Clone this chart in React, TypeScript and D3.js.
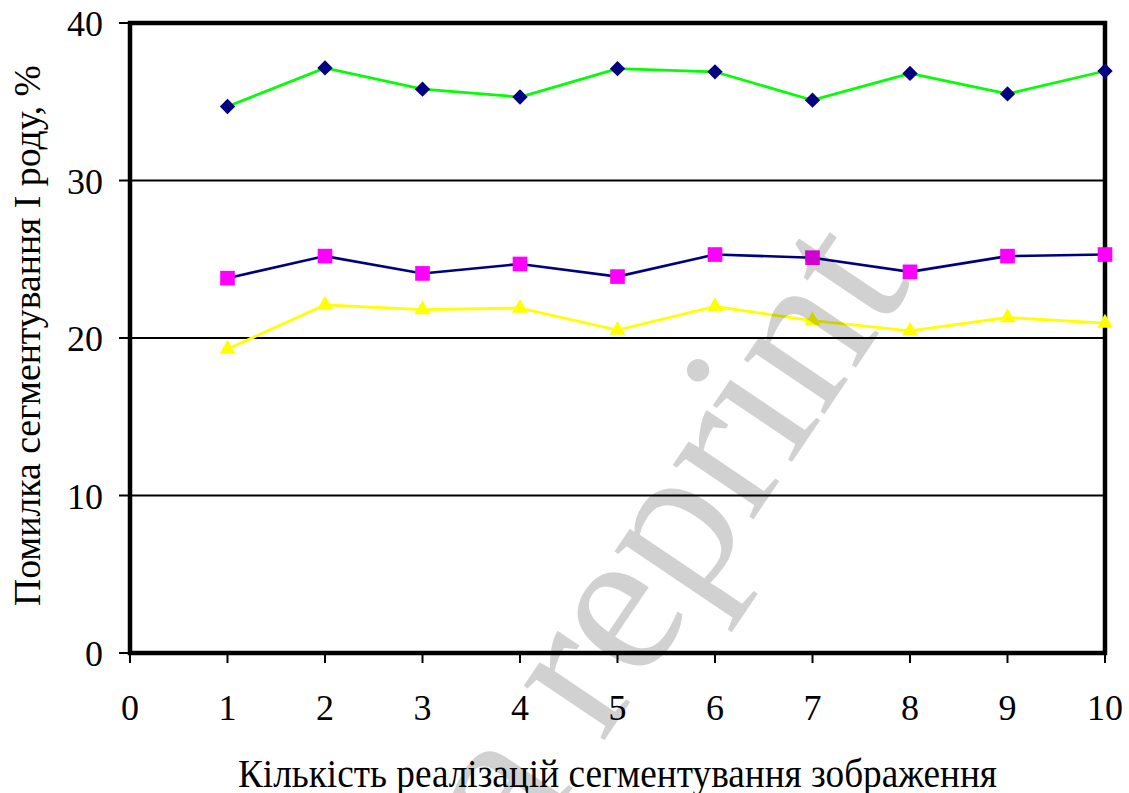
import React from "react";
import * as d3 from "d3";

const xTicks = [0, 1, 2, 3, 4, 5, 6, 7, 8, 9, 10];
const yTicks = [0, 10, 20, 30, 40];
const gridValues = [10, 20, 30];
const realizations = [1, 2, 3, 4, 5, 6, 7, 8, 9, 10];
const seriesDiamond = [34.7, 37.15, 35.8, 35.3, 37.1, 36.9, 35.1, 36.8, 35.5, 36.95];
const seriesSquare = [23.8, 25.2, 24.1, 24.7, 23.9, 25.3, 25.1, 24.2, 25.2, 25.3];
const seriesTriangle = [19.3, 22.1, 21.8, 21.9, 20.5, 22.0, 21.1, 20.45, 21.3, 20.95];
const xTitle = "Кількість реалізацій сегментування зображення";
const yTitle = "Помилка сегментування І роду, %";
const watermark = "a reprint";

export default function App() {
  const W = 1129, H = 793;
  const x = d3.scaleLinear().domain([0, 10]).range([130, 1105]);
  const y = d3.scaleLinear().domain([0, 40]).range([653, 23]);
  const font = "'Liberation Serif', 'Times New Roman', serif";

  const mk = (vals: number[]) => vals.map((v, i) => [realizations[i], v] as [number, number]);
  const line = d3.line<[number, number]>().x(d => x(d[0])).y(d => y(d[1]));

  const diamondPath = d3.symbol().type(d3.symbolSquare).size(118)()!;
  const squarePath = d3.symbol().type(d3.symbolSquare).size(215)()!;
  const trianglePath = d3.symbol().type(d3.symbolTriangle).size(110)()!;

  return (
    <svg width={W} height={H} style={{ position: "absolute", left: 0, top: 0, background: "#fff" }}>
      <rect x={0} y={0} width={W} height={H} fill="#fff" />
      {gridValues.map(v => (
        <line key={"g" + v} x1={x(0)} x2={x(10)} y1={y(v)} y2={y(v)} stroke="#000" strokeWidth={2} />
      ))}
      {yTicks.map(v => (
        <g key={"yt" + v}>
          <line x1={119} x2={x(0)} y1={y(v)} y2={y(v)} stroke="#000" strokeWidth={2} />
          <text x={103} y={y(v) + 13} textAnchor="end" fontFamily={font} fontSize={36} fill="#000">{v}</text>
        </g>
      ))}
      {xTicks.map(v => (
        <g key={"xt" + v}>
          <line x1={x(v)} x2={x(v)} y1={y(0)} y2={663} stroke="#000" strokeWidth={2} />
          <text x={x(v)} y={720} textAnchor="middle" fontFamily={font} fontSize={36} fill="#000">{v}</text>
        </g>
      ))}
      <rect x={x(0)} y={y(40)} width={x(10) - x(0)} height={y(0) - y(40)} fill="none" stroke="#000" strokeWidth={4.5} />

      <path d={line(mk(seriesDiamond))!} fill="none" stroke="#00FF00" strokeWidth={2.7} />
      {mk(seriesDiamond).map((d, i) => (
        <path key={"d" + i} d={diamondPath} transform={`translate(${x(d[0])},${y(d[1])}) rotate(45)`} fill="#000080" />
      ))}
      <path d={line(mk(seriesSquare))!} fill="none" stroke="#000080" strokeWidth={2.6} />
      {mk(seriesSquare).map((d, i) => (
        <path key={"s" + i} d={squarePath} transform={`translate(${x(d[0])},${y(d[1])})`} fill="#FF00FF" />
      ))}
      <path d={line(mk(seriesTriangle))!} fill="none" stroke="#FFFF00" strokeWidth={2.8} />
      {mk(seriesTriangle).map((d, i) => (
        <path key={"t" + i} d={trianglePath} transform={`translate(${x(d[0])},${y(d[1])})`} fill="#FFFF00" />
      ))}

      <text x={617.5} y={787} textAnchor="middle" fontFamily={font} fontSize={40} fill="#000"
        textLength={759} lengthAdjust="spacingAndGlyphs">{xTitle}</text>
      <text transform="translate(40,335.5) rotate(-90)" textAnchor="middle" fontFamily={font} fontSize={38} fill="#000"
        textLength={541} lengthAdjust="spacingAndGlyphs">{yTitle}</text>

      <text transform="translate(658,533) rotate(-56)" textAnchor="middle" dominantBaseline="central"
        fontFamily={font} fontSize={212} fill="#000" fillOpacity={0.18}
        textLength={700} lengthAdjust="spacing">{watermark}</text>
    </svg>
  );
}
